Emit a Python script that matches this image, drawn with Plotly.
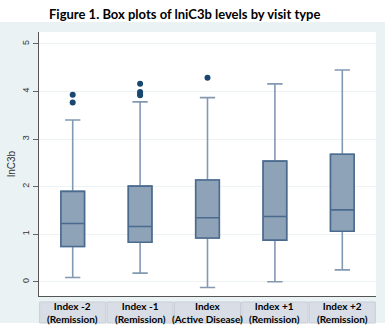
import plotly.graph_objects as go

# ---- data ----
categories = ["-2R", "-1R", "P", "1R", "2R"]
labels = ["Index -2<br>(Remission)", "Index -1<br>(Remission)", "Index<br>(Active Disease)",
          "Index +1<br>(Remission)", "Index +2<br>(Remission)"]
q1 = [0.74, 0.83, 0.92, 0.875, 1.06]
median = [1.225, 1.16, 1.345, 1.37, 1.51]
q3 = [1.90, 2.01, 2.14, 2.535, 2.68]
lower = [0.09, 0.18, -0.12, 0.0, 0.25]
upper = [3.40, 3.78, 3.87, 4.16, 4.45]
out_x = ["-2R", "-2R", "-1R", "-1R", "-1R", "-1R", "P"]
out_y = [3.93, 3.77, 4.16, 3.99, 3.95, 3.92, 4.29]
yticks = [0, 1, 2, 3, 4, 5]

FILL = "#8fa3b8"
EDGE = "#4a6a8e"
WHISK = "#8299b2"

fig = go.Figure()
# whiskers + caps (lighter)
fig.add_trace(go.Box(x=categories, q1=q1, median=median, q3=q3,
                     lowerfence=lower, upperfence=upper,
                     fillcolor=FILL, line=dict(color=WHISK, width=1.6),
                     whiskerwidth=0.65, boxpoints=False, showlegend=False,
                     hoverinfo="skip"))
# box body (darker edges)
fig.add_trace(go.Box(x=categories, q1=q1, median=median, q3=q3,
                     lowerfence=q1, upperfence=q3,
                     fillcolor=FILL, line=dict(color=EDGE, width=1.6),
                     whiskerwidth=0, boxpoints=False, showlegend=False,
                     hoverinfo="skip"))
fig.add_trace(go.Scatter(x=out_x, y=out_y, mode="markers",
                         marker=dict(color="#1a476f", size=6),
                         showlegend=False, hoverinfo="skip"))

L, R, T, B = 39, 13, 32, 32
W, H = 389, 328
pw, ph = W - L - R, H - T - B

def px_x(p):
    return (p - L) / pw

def px_y(p):
    return (H - B - p) / ph

shapes = [
    dict(type="rect", xref="paper", yref="paper", layer="below",
         x0=px_x(0), x1=px_x(385), y0=px_y(323), y1=px_y(22),
         fillcolor="#eaf2f3", line=dict(width=0)),
    dict(type="rect", xref="paper", yref="paper", layer="below",
         x0=0, x1=1, y0=0, y1=1, fillcolor="white", line=dict(width=0)),
]

annotations = [
    dict(text="<b>Figure 1. Box plots of lniC3b levels by visit type</b>",
         xref="paper", yref="paper", x=px_x(184), y=px_y(14),
         xanchor="center", yanchor="middle", showarrow=False,
         font=dict(family="Lato", size=13, color="black")),
]
for i, (c, lab) in enumerate(zip(categories, labels)):
    shapes.append(dict(type="rect", xref="x", yref="paper", layer="above",
                       x0=i - 0.49, x1=i + 0.49, y0=px_y(323), y1=px_y(302),
                       fillcolor="#d9dee6", line=dict(color="#c9ced6", width=1)))
    annotations.append(dict(text="<b>" + lab.replace("<br>", "</b><br><b>") + "</b>",
                            xref="x", yref="paper", x=c, y=px_y(312.5),
                            xanchor="center", yanchor="middle", showarrow=False,
                            font=dict(family="Lato", size=10, color="black")))

fig.update_layout(
    width=W, height=H, margin=dict(l=L, r=R, t=T, b=B),
    paper_bgcolor="white", plot_bgcolor="white",
    boxmode="overlay", boxgap=0.5,
    shapes=shapes, annotations=annotations,
    xaxis=dict(type="category", categoryorder="array", categoryarray=categories,
               range=[-0.5, 4.5], showticklabels=False, ticks="",
               showgrid=False, showline=True, linecolor="#555", linewidth=1,
               zeroline=False, fixedrange=True),
    yaxis=dict(range=[-0.3, 5.25], tickvals=yticks, ticks="outside", ticklen=5,
               tickcolor="#666", tickangle=-90, showline=True, linecolor="#555",
               linewidth=1, showgrid=True, gridcolor="#edf3f4", gridwidth=1,
               zeroline=False,
               tickfont=dict(family="Liberation Sans", size=9, color="#333"),
               title=dict(text="lnC3b", standoff=3,
                          font=dict(family="Liberation Sans", size=10, color="#333"))),
)

fig.write_html("out.html")
